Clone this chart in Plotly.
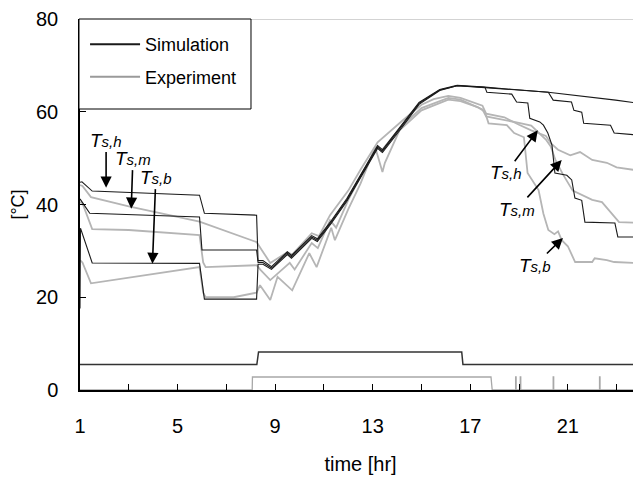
import plotly.graph_objects as go

# ---------------- data ----------------
sim_h_x = [1.0, 1.08, 1.5, 5.9, 6.1, 8.24, 8.3, 8.5, 8.85, 9.5, 9.67, 10.5, 10.73, 11.3, 11.94, 12.48, 13.2, 13.4,
           14.2, 14.9, 15.75, 16.46, 17.6, 20.2, 22.96, 23.83, 23.87, 24.0]
sim_h_y = [44.8, 44.9, 42.9, 42.0, 38.1, 37.7, 27.9, 27.9, 26.6, 29.8, 29.0, 33.3, 32.6, 36.5, 41.3, 46.2, 52.7, 51.8,
           57.2, 62.0, 64.8, 65.7, 65.3, 64.2, 62.5, 61.9, 60.3, 60.3]

sim_m_x = [1.0, 1.4, 5.9, 6.0, 8.24, 8.3, 8.5, 8.85, 9.5, 9.67, 10.5, 10.73, 11.3, 11.94, 12.48, 13.2, 13.4,
           14.2, 14.9, 15.75, 16.46, 17.6, 20.2, 20.4, 21.15, 21.25, 21.57, 21.65, 22.75, 22.9, 23.83, 23.87, 24.0]
sim_m_y = [41.2, 38.1, 37.3, 30.2, 30.2, 27.5, 27.5, 26.3, 29.5, 28.7, 33.0, 32.3, 36.2, 41.0, 45.9, 52.4, 51.5,
           56.9, 61.8, 64.7, 65.6, 65.2, 64.2, 62.5, 62.1, 60.3, 59.9, 57.5, 57.1, 55.4, 55.0, 49.1, 48.9]

sim_b_x = [1.0, 1.02, 1.5, 5.9, 6.1, 8.24, 8.3, 8.5, 8.85, 9.5, 9.67, 10.5, 10.73, 11.3, 11.94, 12.48, 13.2, 13.4,
           14.2, 14.9, 15.75, 16.46, 17.6, 17.68, 18.7, 18.9, 19.36, 19.44, 19.85, 20.0, 20.18, 20.35, 20.47,
           20.96, 21.16, 21.29, 21.57, 21.7, 22.93, 23.05, 23.83, 23.87, 24.0]
sim_b_y = [17.6, 34.9, 27.4, 27.3, 19.6, 19.6, 27.1, 27.1, 26.0, 29.2, 28.4, 32.7, 32.0, 35.9, 40.7, 45.6, 52.1, 51.2,
           56.6, 61.6, 64.6, 65.6, 65.3, 64.2, 63.8, 62.1, 61.9, 58.6, 57.8, 57.1, 55.4, 52.8, 46.8,
           46.3, 45.3, 41.4, 40.9, 36.2, 36.0, 33.0, 33.0, 27.4, 27.4]

exp_h_x = [1.0, 1.1, 1.45, 3.0, 5.9, 7.0, 8.24, 8.45, 8.8, 9.5, 9.7, 10.5, 10.8, 11.25, 12.0, 12.5, 13.2, 14.2,
           15.0, 15.5, 16.1, 16.6, 17.5, 17.65, 18.4, 19.0, 19.5, 20.1, 20.3, 20.6, 21.1, 21.5, 22.0, 22.6,
           23.0, 23.8, 23.87, 24.0]
exp_h_y = [44.2, 44.0, 41.6, 39.6, 36.3, 34.2, 31.9, 30.2, 27.4, 29.7, 29.2, 33.8, 33.2, 37.7, 43.0, 47.5, 53.4, 58.0,
           61.5, 62.7, 63.4, 63.0, 61.3, 59.6, 58.8, 57.2, 56.0, 54.8, 53.2, 51.8, 50.6, 51.3, 49.6, 49.0,
           48.0, 47.4, 45.3, 42.7]

exp_m_x = [1.0, 1.1, 1.5, 3.0, 5.9, 6.05, 6.15, 8.24, 8.4, 8.8, 9.6, 9.8, 10.5, 10.75, 11.25, 11.5, 12.0, 12.5,
           13.2, 13.35, 14.2, 15.0, 16.1, 16.6, 17.5, 17.65, 18.9, 19.5, 20.1, 20.3, 20.5, 20.8, 21.2, 21.5,
           22.0, 22.4, 22.9, 23.1, 24.0]
exp_m_y = [40.5, 40.3, 34.7, 34.5, 33.4, 27.5, 26.5, 26.9, 25.9, 23.7, 27.4, 26.0, 31.7, 30.6, 36.6, 35.0, 41.0, 46.0,
           52.6, 51.5, 57.0, 60.8, 63.0, 62.6, 60.5, 59.0, 57.7, 57.0, 54.0, 52.5, 49.5, 46.5, 43.0, 42.3,
           41.0, 40.5, 37.3, 36.2, 36.0]

exp_b_x = [1.0, 1.1, 1.45, 5.9, 6.05, 6.15, 7.3, 8.24, 8.38, 8.8, 9.1, 9.7, 10.4, 10.7, 11.3, 11.45, 12.0, 12.5,
           13.1, 13.4, 13.5, 14.1, 15.0, 16.1, 16.6, 17.3, 17.6, 17.75, 18.5, 18.8, 19.2, 19.35, 19.8, 20.0,
           20.2, 20.45, 20.6, 20.75, 21.0, 21.3, 22.0, 22.1, 22.6, 22.9, 23.8, 23.87, 24.0]
exp_b_y = [28.0, 27.5, 23.0, 26.5, 21.0, 20.0, 20.0, 21.0, 22.6, 19.4, 24.4, 21.5, 29.5, 26.5, 35.0, 32.3, 39.0, 44.5,
           52.4, 47.0, 49.0, 56.0, 60.3, 62.6, 62.3, 61.0, 60.0, 57.5, 57.1, 55.4, 54.5, 46.8, 43.1, 38.0,
           34.5, 33.6, 34.2, 32.3, 31.0, 27.6, 27.6, 28.4, 28.0, 27.6, 27.4, 23.7, 23.0]

# control signals near the bottom
sim_sig_x = [1.0, 8.25, 8.32, 16.65, 16.7, 24.0]
sim_sig_y = [5.5, 5.5, 8.2, 8.2, 5.5, 5.5]
exp_sig_x = [1.0, 8.06, 8.07, 17.85, 17.9]
exp_sig_y = [0.0, 0.0, 2.8, 2.8, 0.0]
exp_spike_times = [18.86, 19.05, 20.4, 22.3, 23.9]
exp_spike_height = 2.8

x_tickvals = [1, 3, 5, 7, 9, 11, 13, 15, 17, 19, 21, 23]
x_ticktext = ["1", "", "5", "", "9", "", "13", "", "17", "", "21", ""]
y_tickvals = [0, 20, 40, 60, 80]

# annotations: (label, text x, text y, arrow head x, head y)
labels = [
    ("h", 2.07, 53.9, 2.07, 43.6),
    ("m", 3.17, 50.0, 3.1, 39.1),
    ("b", 4.11, 45.9, 3.97, 27.2),
    ("h", 18.46, 46.8, 19.77, 56.0),
    ("m", 18.9, 39.0, 20.75, 49.6),
    ("b", 19.65, 26.9, 20.8, 32.8),
]

BLACK = "#1a1a1a"
GRAY = "#b5b5b5"
FONT = "Liberation Sans, Arial, sans-serif"

fig = go.Figure()

# experiment lines (drawn first, below)
for xs, ys in [(exp_h_x, exp_h_y), (exp_m_x, exp_m_y), (exp_b_x, exp_b_y)]:
    fig.add_trace(go.Scatter(x=xs, y=ys, mode="lines", line=dict(color=GRAY, width=1.8),
                             name="Experiment", legendgroup="exp", showlegend=False))

# experiment signal with spikes
sx = list(exp_sig_x)
sy = list(exp_sig_y)
for t in exp_spike_times:
    sx += [t, t, t + 0.02, t + 0.02]
    sy += [0.0, exp_spike_height, exp_spike_height, 0.0]
fig.add_trace(go.Scatter(x=sx, y=sy, mode="lines", line=dict(color="#a8a8a8", width=1.3),
                         legendgroup="exp", showlegend=False))

for xs, ys in [(sim_h_x, sim_h_y), (sim_m_x, sim_m_y), (sim_b_x, sim_b_y)]:
    fig.add_trace(go.Scatter(x=xs, y=ys, mode="lines", line=dict(color=BLACK, width=1.1),
                             name="Simulation", legendgroup="sim", showlegend=False))

fig.add_trace(go.Scatter(x=sim_sig_x, y=sim_sig_y, mode="lines", line=dict(color="#333333", width=1.5),
                         legendgroup="sim", showlegend=False))

# legend entries
fig.add_trace(go.Scatter(x=[None], y=[None], mode="lines", line=dict(color=BLACK, width=2),
                         name="Simulation", legendgroup="sim", showlegend=True))
fig.add_trace(go.Scatter(x=[None], y=[None], mode="lines", line=dict(color="#9a9a9a", width=2),
                         name="Experiment", legendgroup="exp", showlegend=True))

# top frame line (gray)
fig.add_shape(type="line", xref="paper", yref="y", x0=0, x1=1, y0=80, y1=80,
              line=dict(color="#c4c4c4", width=1.5), layer="below")
# legend frame
fig.add_shape(type="rect", xref="paper", yref="paper", x0=-0.0018, x1=0.3048, y0=0.7574, y1=1.0,
              line=dict(color="black", width=1), fillcolor="white", layer="above")

for lab, tx, ty, hx, hy in labels:
    fig.add_annotation(x=hx, y=hy, ax=tx, ay=ty, xref="x", yref="y", axref="x", ayref="y",
                       text="<i>T<span style='font-size:15px'>s,%s</span></i>" % lab,
                       font=dict(family=FONT, size=19, color="black"),
                       showarrow=True, arrowhead=2, arrowsize=1.4, arrowwidth=1.6,
                       arrowcolor="black", standoff=0, startstandoff=1, borderpad=0)

# page body has an 8px margin, so the figure is sized/offset to land on the reference pixels
fig.update_layout(
    width=633, height=467,
    margin=dict(l=72, r=0, t=11, b=85),
    paper_bgcolor="white", plot_bgcolor="white",
    font=dict(family=FONT, color="black"),
    showlegend=True,
    legend=dict(x=0.009, y=0.981, xanchor="left", yanchor="top", bgcolor="rgba(0,0,0,0)",
                borderwidth=0, traceorder="grouped",
                tracegroupgap=6, itemwidth=50,
                font=dict(family=FONT, size=18, color="black")),
)
fig.update_xaxes(range=[1, 24], tickvals=x_tickvals, ticktext=x_ticktext, automargin=False,
                 showline=True, linecolor="black", linewidth=1.5, showgrid=False, zeroline=False,
                 ticks="inside", ticklen=6, tickcolor="black", tickwidth=1,
                 ticklabelstandoff=17,
                 tickfont=dict(family=FONT, size=20),
                 title=dict(text="time [hr]", font=dict(family=FONT, size=20), standoff=23))
fig.update_yaxes(range=[0, 80], tickvals=y_tickvals, automargin=False,
                 showline=True, linecolor="black", linewidth=1.5, showgrid=False, zeroline=False,
                 ticks="inside", ticklen=6, tickcolor="black", tickwidth=1,
                 ticklabelstandoff=16,
                 tickfont=dict(family=FONT, size=20),
                 title=dict(text="[°C]", font=dict(family=FONT, size=18), standoff=16))

fig.write_html("out.html")
